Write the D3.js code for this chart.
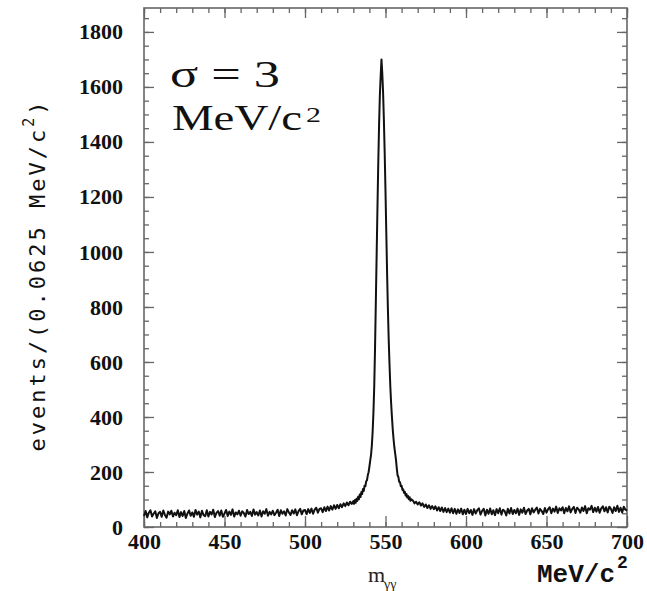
<!DOCTYPE html>
<html>
<head>
<meta charset="utf-8">
<script src="https://cdn.jsdelivr.net/npm/d3@7"></script>
<style>
  html, body { margin: 0; padding: 0; background: #fff; }
  svg { display: block; }
  .tick text { font-family: "Liberation Serif", "Times New Roman", serif; font-weight: bold; font-size: 22px; fill: #111; }
</style>
</head>
<body>
<svg id="chart" width="647" height="591"></svg>
<script>
// m(γγ) spectrum, events per 0.0625 MeV/c² bin, η peak near 547.5 MeV/c²

// Low sideband: 400 … 529 MeV/c², 1 MeV steps
const lowStart = 400, lowStep = 1;
const lowEvents = [
  40, 58, 35, 52, 61, 38, 49, 57, 33, 50,
  55, 37, 60, 44, 34, 56, 46, 59, 38, 52,
  43, 61, 36, 54, 40, 58, 33, 49, 60, 41,
  53, 37, 62, 45, 56, 35, 59, 43, 39, 61,
  38, 55, 46, 63, 36, 51, 58, 41, 60, 37,
  49, 62, 40, 56, 44, 64, 38, 53, 46, 59,
  41, 57, 51, 38, 62, 47, 55, 40, 64, 45,
  54, 42, 60, 38, 57, 48, 65, 41, 55, 46,
  59, 43, 52, 63, 40, 61, 48, 57, 42, 65,
  53, 44, 61, 49, 64, 43, 58, 66, 46, 60,
  62, 47, 65, 51, 67, 48, 63, 70, 52, 66,
  68, 54, 72, 58, 74, 60, 76, 63, 79, 66,
  80, 68, 83, 72, 86, 76, 89, 79, 92, 84
];

// Peak region: 530 … 566 MeV/c², 0.5 MeV steps
const peakStart = 530, peakStep = 0.5;
const peakEvents = [
  94, 84, 98, 88, 103, 95, 110, 101, 118, 109,
  127, 120, 138, 131, 150, 148, 166, 170, 188, 199,
  219, 241, 261, 295, 345, 415, 510, 650, 820, 990,
  1160, 1320, 1460, 1570, 1640, 1700, 1650, 1580, 1480, 1360,
  1220, 1070, 920, 790, 680, 590, 510, 450, 400, 355,
  320, 290, 268, 245, 214, 188, 182, 164, 163, 148,
  150, 135, 137, 124, 128, 114, 120, 107, 113, 101,
  108, 95, 101
];

// High sideband: 567 … 700 MeV/c², 1 MeV steps
const highStart = 567, highStep = 1;
const highEvents = [
  96, 86, 92,
  82, 90, 78, 86, 73, 82, 69, 79, 66, 76,
  65, 75, 60, 72, 58, 71, 55, 69, 54, 67,
  52, 68, 50, 66, 48, 64, 51, 67, 46, 63,
  47, 66, 50, 62, 44, 65, 49, 61, 68, 45,
  59, 66, 42, 63, 48, 67, 46, 61, 43, 65,
  50, 68, 45, 63, 58, 42, 66, 49, 69, 47,
  62, 50, 67, 44, 64, 52, 70, 47, 60, 66,
  46, 68, 53, 63, 71, 49, 66, 58, 47, 69,
  52, 65, 72, 50, 67, 56, 74, 51, 68, 60,
  72, 50, 69, 57, 75, 53, 66, 73, 51, 70,
  64, 52, 71, 58, 76, 50, 68, 63, 77, 54,
  70, 56, 73, 52, 68, 75, 57, 72, 53, 74,
  66, 51, 72, 58, 77, 55, 70, 53, 74, 63,
  60
];

const xTicks = [400, 450, 500, 550, 600, 650, 700];
const yTicks = [0, 200, 400, 600, 800, 1000, 1200, 1400, 1600, 1800];

const segments = [
  { start: lowStart, step: lowStep, values: lowEvents },
  { start: peakStart, step: peakStep, values: peakEvents },
  { start: highStart, step: highStep, values: highEvents }
];
const points = [];
segments.forEach(s => s.values.forEach((v, i) => points.push([s.start + i * s.step, v])));

const plotLeft = 144, plotRight = 627, plotTop = 8, plotBottom = 527;
const svg = d3.select("#chart");

const x = d3.scaleLinear().domain([400, 700]).range([plotLeft, plotRight]);
const y = d3.scaleLinear().domain([0, 1887]).range([plotBottom, plotTop]);

const minorX = d3.range(400, 701, 10);
const minorY = d3.range(0, 1851, 50);
const axisColor = "#666";

function styleAxis(g) {
  g.select(".domain").remove();
  g.selectAll(".tick line").attr("stroke", axisColor).attr("stroke-width", 1.3);
}

// bottom axis: inward ticks with labels
svg.append("g").attr("transform", `translate(0,${plotBottom})`)
  .call(d3.axisBottom(x).tickValues(minorX).tickSize(-5).tickFormat(""))
  .call(styleAxis);
svg.append("g").attr("transform", `translate(0,${plotBottom})`)
  .call(d3.axisBottom(x).tickValues(xTicks).tickSize(-11).tickPadding(6).tickFormat(d3.format("d")))
  .call(styleAxis);

// top axis: ticks only
svg.append("g").attr("transform", `translate(0,${plotTop})`)
  .call(d3.axisBottom(x).tickValues(minorX).tickSize(5).tickFormat(""))
  .call(styleAxis);
svg.append("g").attr("transform", `translate(0,${plotTop})`)
  .call(d3.axisBottom(x).tickValues(xTicks).tickSize(10).tickFormat(""))
  .call(styleAxis);

// left axis with labels
svg.append("g").attr("transform", `translate(${plotLeft},0)`)
  .call(d3.axisLeft(y).tickValues(minorY).tickSize(-5).tickFormat(""))
  .call(styleAxis);
svg.append("g").attr("transform", `translate(${plotLeft},0)`)
  .call(d3.axisLeft(y).tickValues(yTicks).tickSize(-10).tickPadding(21).tickFormat(d3.format("d")))
  .call(styleAxis);

// right axis: ticks only
svg.append("g").attr("transform", `translate(${plotRight},0)`)
  .call(d3.axisLeft(y).tickValues(minorY).tickSize(5).tickFormat(""))
  .call(styleAxis);
svg.append("g").attr("transform", `translate(${plotRight},0)`)
  .call(d3.axisLeft(y).tickValues(yTicks).tickSize(10).tickFormat(""))
  .call(styleAxis);

// frame
svg.append("rect")
  .attr("x", plotLeft).attr("y", plotTop)
  .attr("width", plotRight - plotLeft).attr("height", plotBottom - plotTop)
  .attr("fill", "none").attr("stroke", axisColor).attr("stroke-width", 1.6);

// spectrum
svg.append("path")
  .datum(points)
  .attr("fill", "none")
  .attr("stroke", "#111")
  .attr("stroke-width", 2)
  .attr("stroke-linejoin", "round")
  .attr("d", d3.line().x(d => x(d[0])).y(d => y(d[1])));

// resolution annotation
const serif = "'Liberation Serif', 'Times New Roman', serif";
svg.append("text")
  .attr("x", 170).attr("y", 87)
  .attr("font-family", serif).attr("font-size", 37)
  .attr("textLength", 110).attr("lengthAdjust", "spacingAndGlyphs")
  .attr("fill", "#111")
  .text("σ = 3");
svg.append("text")
  .attr("x", 172).attr("y", 130)
  .attr("font-family", serif).attr("font-size", 35)
  .attr("textLength", 130).attr("lengthAdjust", "spacingAndGlyphs")
  .attr("fill", "#111")
  .text("MeV/c");
svg.append("text")
  .attr("x", 306).attr("y", 122)
  .attr("font-family", serif).attr("font-size", 22)
  .attr("textLength", 15).attr("lengthAdjust", "spacingAndGlyphs")
  .attr("fill", "#111")
  .text("2");

// x-axis titles
svg.append("text")
  .attr("x", 368).attr("y", 582)
  .attr("font-family", serif).attr("font-size", 22)
  .attr("fill", "#222")
  .text("m");
svg.append("text")
  .attr("x", 384).attr("y", 589)
  .attr("font-family", serif).attr("font-size", 14)
  .attr("fill", "#222")
  .text("γγ");

const mono = "'Liberation Mono', 'Courier New', monospace";
svg.append("text")
  .attr("x", 537).attr("y", 582)
  .attr("font-family", mono).attr("font-weight", "bold").attr("font-size", 25)
  .attr("textLength", 78).attr("lengthAdjust", "spacingAndGlyphs")
  .attr("fill", "#111")
  .text("MeV/c");
svg.append("text")
  .attr("x", 617).attr("y", 568)
  .attr("font-family", mono).attr("font-weight", "bold").attr("font-size", 18)
  .attr("fill", "#111")
  .text("2");

// y-axis title
const yTitle = svg.append("text")
  .attr("transform", "translate(45,275) rotate(-90)")
  .attr("text-anchor", "middle")
  .attr("font-family", "'DejaVu Sans Mono', monospace")
  .attr("font-size", 22)
  .attr("letter-spacing", 3)
  .attr("fill", "#111");
yTitle.append("tspan").text("events/(0.0625 MeV/c");
yTitle.append("tspan").attr("font-size", 15).attr("dy", -11).text("2");
yTitle.append("tspan").attr("dy", 11).text(")");
</script>
</body>
</html>
